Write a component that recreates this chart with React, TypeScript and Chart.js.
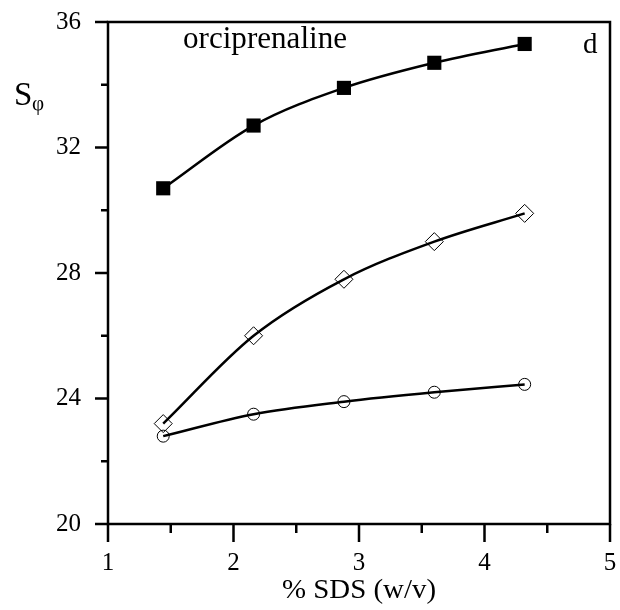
import React, { useEffect, useRef } from "react";
import { Chart, registerables } from "chart.js";

Chart.register(...registerables);

const sdsPercent = [1.44, 2.16, 2.88, 3.6, 4.32];
const seriesSquares = [30.7, 32.7, 33.9, 34.7, 35.3];
const seriesDiamonds = [23.2, 26.0, 27.8, 29.0, 29.9];
const seriesCircles = [22.8, 23.5, 23.9, 24.2, 24.45];
const xTickValues = [1, 1.5, 2, 2.5, 3, 3.5, 4, 4.5, 5];
const yTickValues = [20, 22, 24, 26, 28, 30, 32, 34, 36];

const SERIF = "'Liberation Serif', 'DejaVu Serif', serif";

const toPoints = (ys: number[]) => ys.map((y, i) => ({ x: sdsPercent[i], y }));

function drawScaledText(
  ctx: CanvasRenderingContext2D,
  text: string,
  font: string,
  x: number,
  y: number,
  targetWidth: number | null,
  align: "left" | "center"
) {
  ctx.save();
  ctx.font = font;
  ctx.fillStyle = "#000";
  ctx.textBaseline = "alphabetic";
  ctx.textAlign = "left";
  const w = ctx.measureText(text).width;
  const sx = targetWidth ? targetWidth / w : 1;
  const drawW = w * sx;
  const left = align === "center" ? x - drawW / 2 : x;
  ctx.translate(left, y);
  ctx.scale(sx, 1);
  ctx.fillText(text, 0, 0);
  ctx.restore();
}

const framePlugin = {
  id: "frameAndTicks",
  afterDatasetsDraw(chart: any) {
    const { ctx, chartArea } = chart;
    const xs = chart.scales.x;
    const ys = chart.scales.y;
    ctx.save();
    ctx.strokeStyle = "#000";
    ctx.lineWidth = 2.5;
    ctx.lineCap = "butt";
    ctx.strokeRect(
      chartArea.left,
      chartArea.top,
      chartArea.right - chartArea.left,
      chartArea.bottom - chartArea.top
    );
    ctx.beginPath();
    yTickValues.forEach((v) => {
      const py = ys.getPixelForValue(v);
      const len = v % 4 === 0 ? 13 : 7;
      ctx.moveTo(chartArea.left - len, py);
      ctx.lineTo(chartArea.left, py);
    });
    xTickValues.forEach((v) => {
      const px = xs.getPixelForValue(v);
      const len = Number.isInteger(v) ? 18 : 9;
      ctx.moveTo(px, chartArea.bottom);
      ctx.lineTo(px, chartArea.bottom + len);
    });
    ctx.stroke();
    ctx.restore();
  },
  afterDraw(chart: any) {
    const { ctx, chartArea } = chart;
    const xs = chart.scales.x;
    drawScaledText(ctx, "orciprenaline", `31px ${SERIF}`, chartArea.left + 75, chartArea.top + 26, 164, "left");
    drawScaledText(ctx, "d", `29px ${SERIF}`, chartArea.right - 27, chartArea.top + 31, null, "left");
    drawScaledText(ctx, "S", `33px ${SERIF}`, 14, 105, null, "left");
    drawScaledText(ctx, "φ", `21px ${SERIF}`, 32, 110, null, "left");
    drawScaledText(
      ctx,
      "% SDS (w/v)",
      `27px ${SERIF}`,
      xs.getPixelForValue(3),
      598,
      154,
      "center"
    );
  },
};

export default function App() {
  const canvasRef = useRef<HTMLCanvasElement | null>(null);

  useEffect(() => {
    if (!canvasRef.current) return;
    const common = {
      borderColor: "#000",
      borderWidth: 2.5,
      pointBorderColor: "#000",
      cubicInterpolationMode: "monotone" as const,
      fill: false,
    };
    const chart = new Chart(canvasRef.current, {
      type: "line",
      data: {
        datasets: [
          {
            ...common,
            label: "squares",
            data: toPoints(seriesSquares),
            pointStyle: "rect",
            pointRadius: 10,
            pointBackgroundColor: "#000",
            pointBorderWidth: 0,
          },
          {
            ...common,
            label: "diamonds",
            data: toPoints(seriesDiamonds),
            pointStyle: "rectRot",
            pointRadius: 9,
            pointBackgroundColor: "rgba(0,0,0,0)",
            pointBorderWidth: 1,
          },
          {
            ...common,
            label: "circles",
            data: toPoints(seriesCircles),
            pointStyle: "circle",
            pointRadius: 6,
            pointBackgroundColor: "rgba(0,0,0,0)",
            pointBorderWidth: 1,
          },
        ],
      },
      options: {
        animation: false,
        responsive: false,
        maintainAspectRatio: false,
        layout: { padding: { top: 22, right: 10, left: 0, bottom: 0 } },
        plugins: {
          legend: { display: false },
          tooltip: { enabled: false },
          title: { display: false },
        },
        scales: {
          x: {
            type: "linear",
            min: 1,
            max: 5,
            grid: { display: false, drawTicks: false, tickLength: 0 },
            border: { display: false },
            ticks: {
              stepSize: 1,
              padding: 24,
              color: "#000",
              font: { family: SERIF, size: 25 },
              callback: (v: any) => String(v),
            },
            afterFit: (scale: any) => {
              scale.height = 86;
              scale.paddingLeft = 0;
              scale.paddingRight = 0;
            },
          },
          y: {
            type: "linear",
            min: 20,
            max: 36,
            grid: { display: false, drawTicks: false, tickLength: 0 },
            border: { display: false },
            ticks: {
              stepSize: 4,
              padding: 27,
              color: "#000",
              font: { family: SERIF, size: 25 },
              callback: (v: any) => String(v),
            },
            afterFit: (scale: any) => {
              scale.width = 108;
              scale.paddingTop = 0;
              scale.paddingBottom = 0;
            },
          },
        },
      },
      plugins: [framePlugin],
    });
    return () => chart.destroy();
  }, []);

  return (
    <div style={{ position: "fixed", left: 0, top: 0, width: 620, height: 610, background: "#fff" }}>
      <canvas ref={canvasRef} width={620} height={610} style={{ width: 620, height: 610, display: "block" }} />
    </div>
  );
}
